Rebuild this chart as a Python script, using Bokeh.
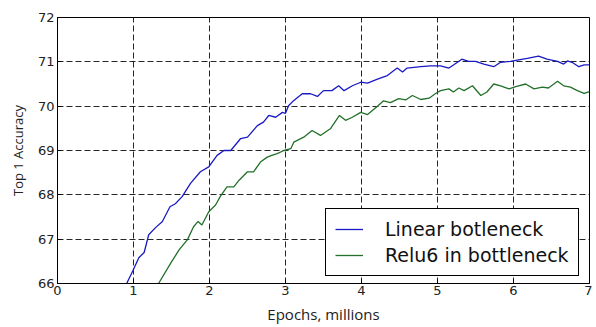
from bokeh.plotting import figure
from bokeh.models import Legend, LegendItem, FixedTicker, Range1d
from bokeh.embed import file_html
from bokeh.resources import INLINE

# Data
linear_x = [0.91, 0.99, 1.07, 1.14, 1.20, 1.29, 1.38, 1.48, 1.55, 1.64, 1.75, 1.88, 1.99,
            2.10, 2.19, 2.28, 2.41, 2.50, 2.63, 2.71, 2.78, 2.87, 2.96, 3.00, 3.04, 3.11,
            3.22, 3.33, 3.42, 3.50, 3.61, 3.70, 3.77, 3.88, 3.99, 4.08, 4.21, 4.34, 4.47,
            4.54, 4.60, 4.78, 4.91, 5.04, 5.15, 5.21, 5.32, 5.41, 5.50, 5.61, 5.74, 5.83,
            5.96, 6.05, 6.18, 6.33, 6.44, 6.58, 6.66, 6.71, 6.77, 6.86, 6.93, 7.00]
linear_y = [66.00, 66.28, 66.58, 66.70, 67.10, 67.26, 67.40, 67.73, 67.80, 67.96, 68.26, 68.52, 68.63,
            68.89, 69.00, 69.00, 69.27, 69.30, 69.56, 69.64, 69.79, 69.75, 69.86, 69.84, 70.01, 70.13,
            70.28, 70.28, 70.22, 70.35, 70.35, 70.46, 70.35, 70.46, 70.54, 70.52, 70.61, 70.69, 70.86,
            70.77, 70.86, 70.89, 70.91, 70.91, 70.86, 70.93, 71.06, 71.01, 71.01, 70.95, 70.89, 70.99,
            71.01, 71.04, 71.08, 71.13, 71.06, 71.01, 70.95, 71.02, 70.99, 70.89, 70.93, 70.93]

relu6_x = [1.33, 1.49, 1.60, 1.71, 1.79, 1.85, 1.90, 1.99, 2.08, 2.14, 2.23, 2.32, 2.39, 2.50,
           2.58, 2.67, 2.76, 2.82, 2.89, 2.98, 3.07, 3.11, 3.24, 3.35, 3.46, 3.59, 3.71, 3.79,
           3.88, 3.99, 4.08, 4.21, 4.29, 4.38, 4.49, 4.58, 4.67, 4.78, 4.89, 4.97, 5.04, 5.15,
           5.21, 5.28, 5.35, 5.46, 5.57, 5.65, 5.74, 5.83, 5.94, 6.03, 6.16, 6.27, 6.38, 6.46,
           6.58, 6.66, 6.75, 6.84, 6.93, 7.00]
relu6_y = [66.00, 66.46, 66.76, 66.99, 67.28, 67.40, 67.32, 67.62, 67.77, 67.96, 68.18, 68.18, 68.33, 68.52,
           68.52, 68.74, 68.85, 68.89, 68.93, 69.00, 69.04, 69.19, 69.30, 69.45, 69.34, 69.49, 69.79, 69.68,
           69.75, 69.86, 69.81, 70.00, 70.12, 70.08, 70.17, 70.14, 70.24, 70.15, 70.18, 70.28, 70.35, 70.39,
           70.32, 70.41, 70.35, 70.46, 70.24, 70.32, 70.50, 70.46, 70.39, 70.44, 70.50, 70.39, 70.43, 70.41,
           70.56, 70.46, 70.43, 70.35, 70.29, 70.33]

x_ticks = [0, 1, 2, 3, 4, 5, 6, 7]
y_ticks = [66, 67, 68, 69, 70, 71, 72]
series_names = ["Linear botleneck", "Relu6 in bottleneck"]

p = figure(width=592, height=326, output_backend="svg", toolbar_location=None,
           x_range=Range1d(0, 7), y_range=Range1d(66, 72),
           min_border_left=57, min_border_right=3, min_border_top=17, min_border_bottom=42)

p.outline_line_color = "black"
p.outline_line_width = 1
p.outline_line_alpha = 1

for ax in (p.xaxis[0], p.yaxis[0]):
    ax.major_label_text_font = "DejaVu Sans"
    ax.major_label_text_font_size = "13px"
    ax.major_label_text_color = "#222222"
    ax.axis_line_color = "black"
    ax.major_tick_in = 4
    ax.major_tick_out = 0
    ax.minor_tick_line_color = None
    ax.axis_label_text_font = "Open Sans"
    ax.axis_label_text_font_style = "normal"
    ax.axis_label_text_color = "#222222"

p.xaxis.ticker = FixedTicker(ticks=x_ticks)
p.yaxis.ticker = FixedTicker(ticks=y_ticks)
p.xaxis.axis_label = "Epochs, millions"
p.yaxis.axis_label = "Top 1 Accuracy"
p.xaxis.axis_label_text_font_size = "15px"
p.yaxis.axis_label_text_font_size = "13px"
p.xaxis.major_label_standoff = 2
p.yaxis.major_label_standoff = 3
p.xaxis.axis_label_standoff = 6
p.yaxis.axis_label_standoff = 8

p.xgrid.ticker = FixedTicker(ticks=x_ticks)
p.ygrid.ticker = FixedTicker(ticks=y_ticks)
for g in (p.xgrid[0], p.ygrid[0]):
    g.grid_line_color = "black"
    g.grid_line_alpha = 0.85
    g.grid_line_dash = "6 3"
    g.grid_line_width = 1

r1 = p.line(linear_x, linear_y, line_color="#1a1ac4", line_width=1.3)
r2 = p.line(relu6_x, relu6_y, line_color="#23702a", line_width=1.3)

legend = Legend(items=[LegendItem(label=series_names[0], renderers=[r1]),
                       LegendItem(label=series_names[1], renderers=[r2])],
                location=(268, 7))
legend.label_text_font = "DejaVu Sans"
legend.label_text_font_size = "19px"
legend.label_text_color = "#111111"
legend.border_line_color = "black"
legend.border_line_width = 1
legend.border_line_alpha = 1
legend.background_fill_color = "white"
legend.background_fill_alpha = 1
legend.glyph_width = 28
legend.glyph_height = 20
legend.label_standoff = 22
legend.label_height = 20
legend.padding = 9
legend.spacing = 4
legend.margin = 0
p.add_layout(legend, "center")

open("out.html", "w").write(file_html(p, INLINE))
